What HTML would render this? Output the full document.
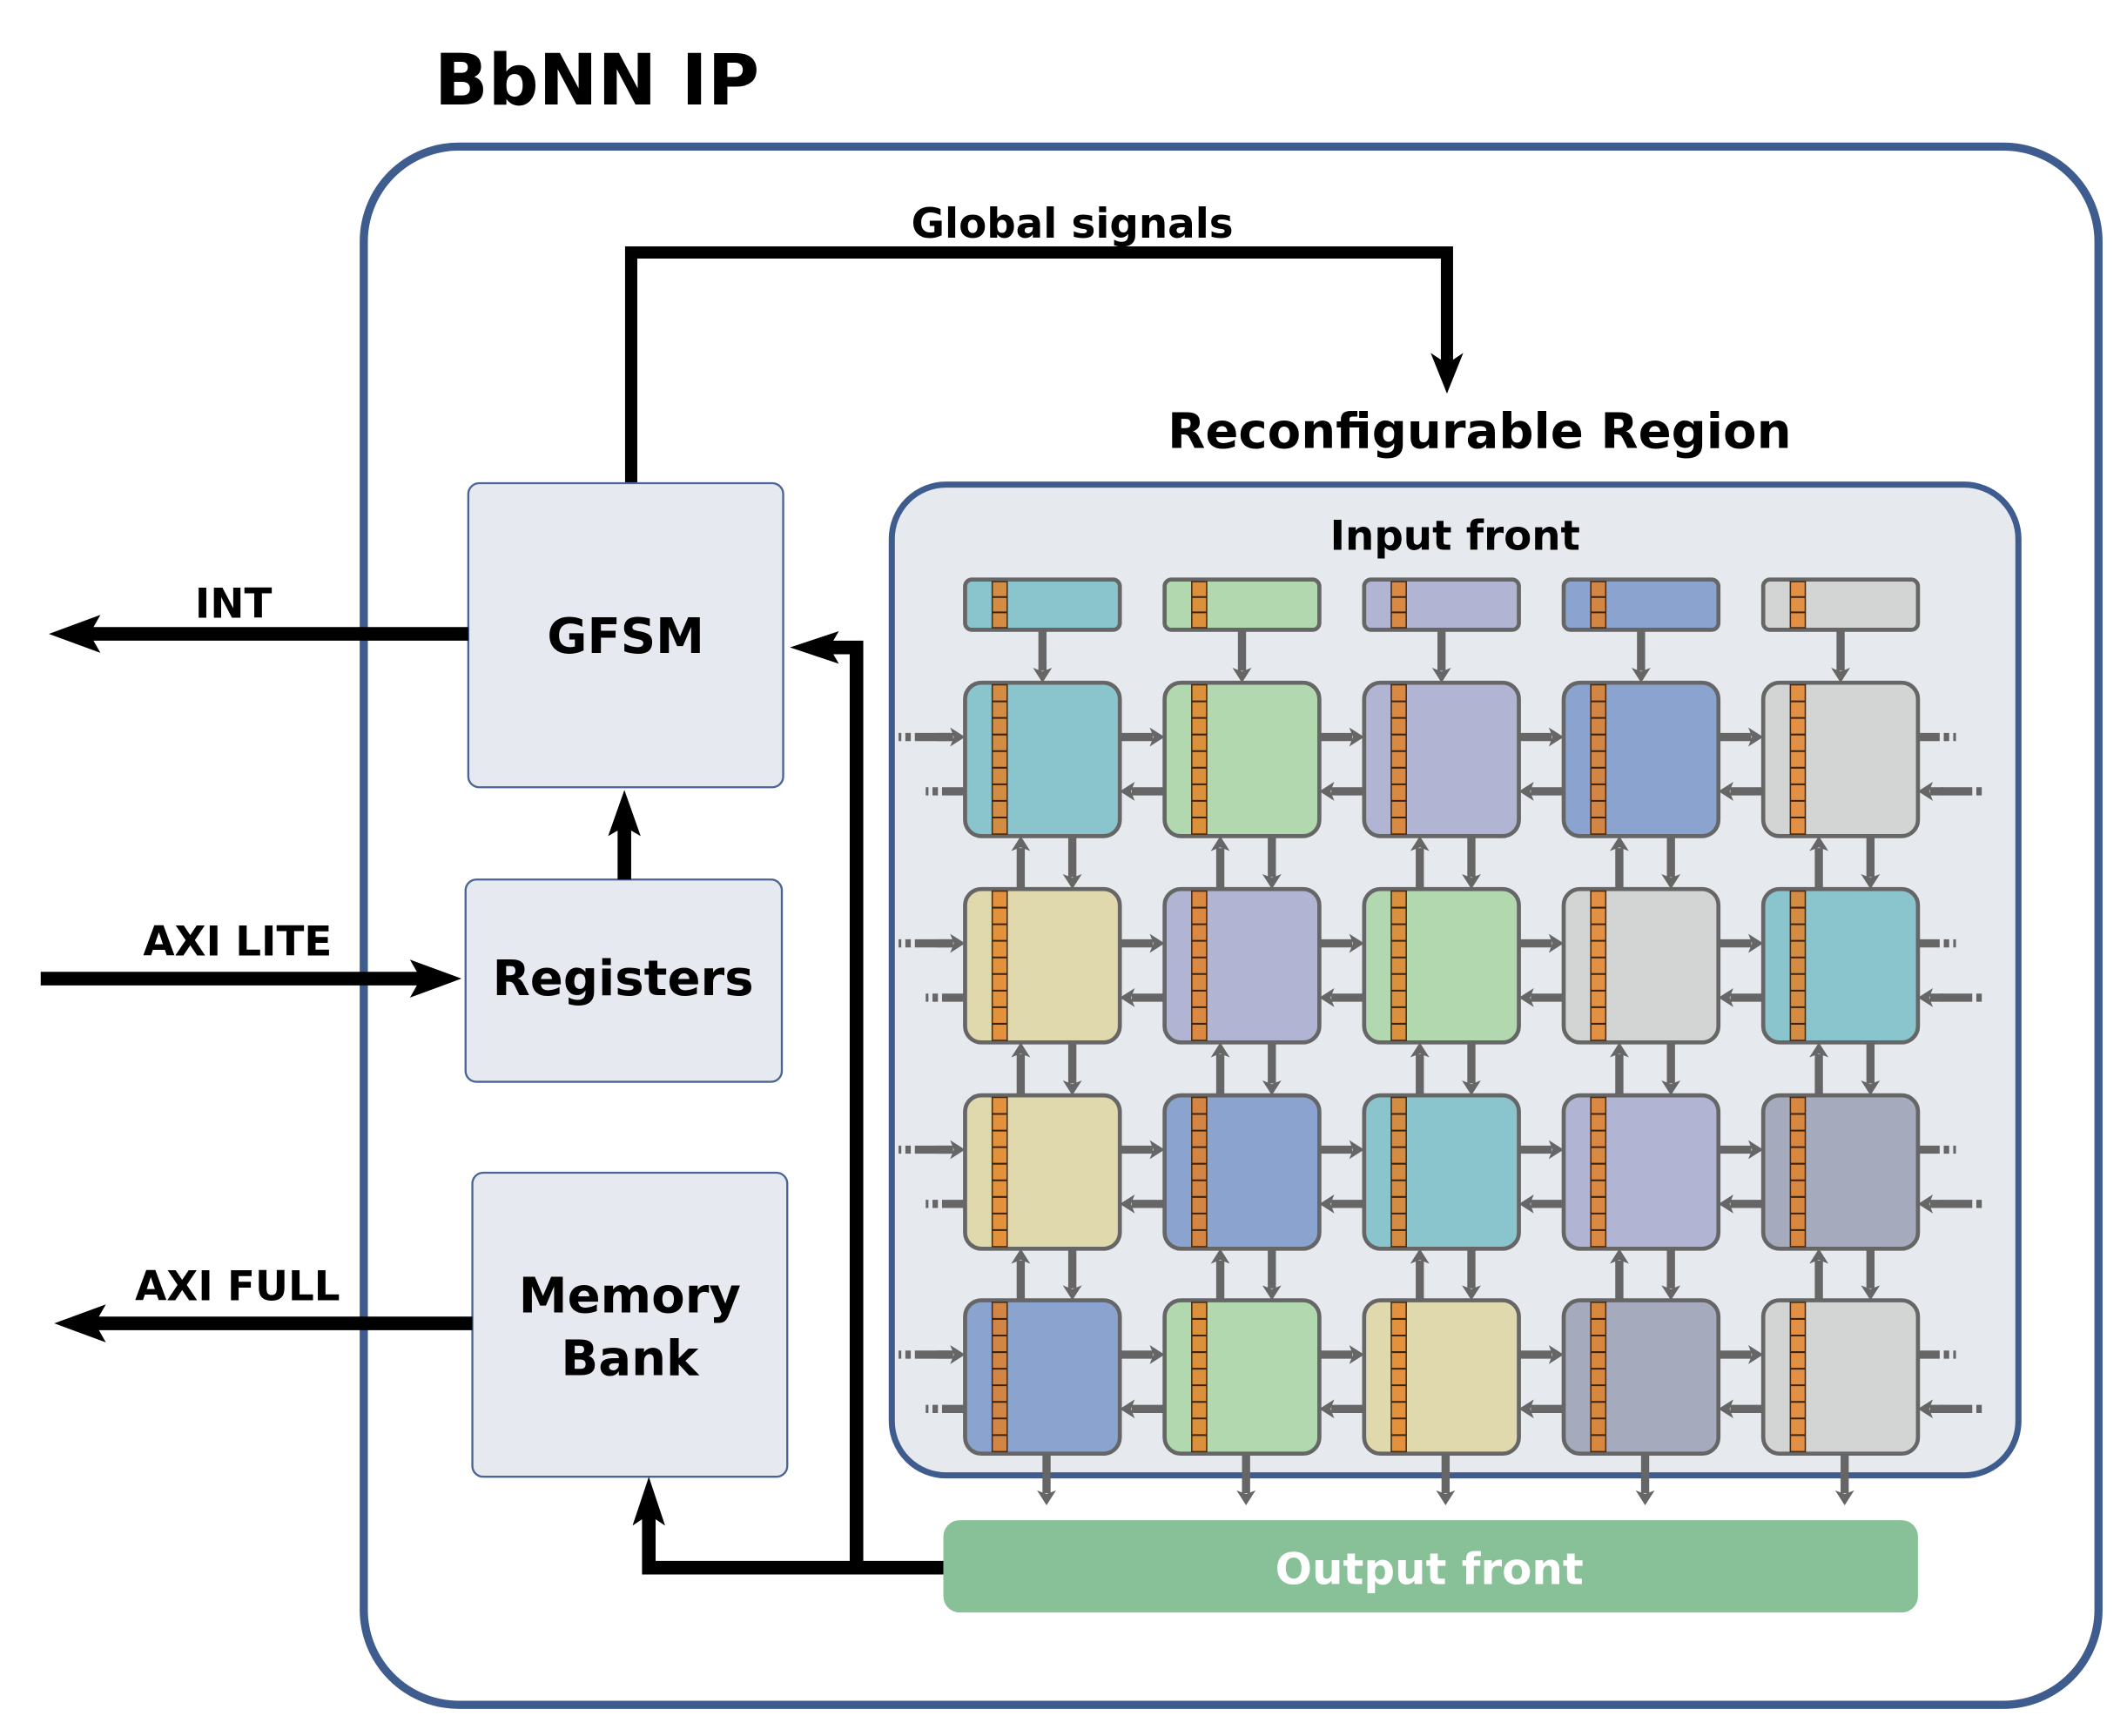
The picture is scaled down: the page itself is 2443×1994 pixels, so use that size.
<!DOCTYPE html>
<html><head><meta charset="utf-8"><style>html,body{margin:0;padding:0;background:#fff}svg{display:block}</style></head>
<body>
<svg id="s" xmlns="http://www.w3.org/2000/svg" width="2443" height="1994" viewBox="0 0 1567 1279" preserveAspectRatio="xMinYMin meet" font-family="'DejaVu Sans','Liberation Sans',sans-serif" font-weight="bold">
<rect width="1567" height="1279" fill="#fff"/>
<text x="320" y="77" font-size="52">BbNN IP</text>
<rect x="268" y="108" width="1278" height="1148" rx="70" fill="#fff" stroke="#3f5c8f" stroke-width="6"/>
<polyline points="465,356 465,186 1066,186 1066,272" fill="none" stroke="#000" stroke-width="9"/>
<polygon points="1066,290 1054,260 1066,268 1078,260" fill="#000"/>
<text x="790" y="175" font-size="30" text-anchor="middle">Global signals</text>
<text x="1090" y="330" font-size="36" text-anchor="middle">Reconfigurable Region</text>
<rect x="657" y="357" width="830" height="730" rx="40" fill="#e6e9ee" stroke="#3f5c8f" stroke-width="4.5"/>
<text x="1072" y="405" font-size="30" text-anchor="middle">Input front</text>
<rect x="345" y="356" width="232" height="224" rx="8" fill="#e6e9ef" stroke="#4a6496" stroke-width="1.5"/>
<text x="461" y="481" font-size="36" text-anchor="middle">GFSM</text>
<rect x="343" y="648" width="233" height="149" rx="8" fill="#e6e9ef" stroke="#4a6496" stroke-width="1.5"/>
<text x="459" y="733" font-size="36" text-anchor="middle">Registers</text>
<rect x="348" y="864" width="232" height="224" rx="8" fill="#e6e9ef" stroke="#4a6496" stroke-width="1.5"/>
<text x="464" y="967" font-size="36" text-anchor="middle">Memory</text>
<text x="464" y="1013" font-size="36" text-anchor="middle">Bank</text>
<line x1="345" y1="467" x2="55" y2="467" stroke="#000" stroke-width="10"/>
<polygon points="36,467 74,453 66,467 74,481" fill="#000"/>
<text x="172" y="455" font-size="30" text-anchor="middle">INT</text>
<line x1="30" y1="721" x2="320" y2="721" stroke="#000" stroke-width="10"/>
<polygon points="340,721 302,707 310,721 302,735" fill="#000"/>
<text x="175" y="704" font-size="30" text-anchor="middle">AXI LITE</text>
<line x1="348" y1="975" x2="58" y2="975" stroke="#000" stroke-width="10"/>
<polygon points="40,975 78,961 70,975 78,989" fill="#000"/>
<text x="175" y="958" font-size="30" text-anchor="middle">AXI FULL</text>
<line x1="460" y1="648" x2="460" y2="600" stroke="#000" stroke-width="10"/>
<polygon points="460,582 448,616 460,609 472,616" fill="#000"/>
<polyline points="695,1155 478,1155 478,1105" fill="none" stroke="#000" stroke-width="10"/>
<polygon points="478,1088 466,1124 478,1116 490,1124" fill="#000"/>
<polyline points="631,1155 631,477 600,477" fill="none" stroke="#000" stroke-width="10"/>
<polygon points="582,477 618,465 611,477 618,489" fill="#000"/>
<rect x="695" y="1120" width="718" height="68" rx="12" fill="#88c198"/>
<text x="1053" y="1167" font-size="32" text-anchor="middle" fill="#fff">Output front</text>
<g id="grid"></g>
</svg>
<script>
(function(){
var NS="http://www.w3.org/2000/svg",g=document.getElementById("grid");
function el(t,a){var e=document.createElementNS(NS,t);for(var k in a)e.setAttribute(k,a[k]);g.appendChild(e);return e;}
var C={t:"#8ac4cd",g:"#b2d8b0",l:"#b1b4d2",b:"#8aa3cf",y:"#d3d5d4",n:"#e0d9ad",s:"#a6aabd"};
var cols=[711,858,1005,1152,1299],rows=[503,655,807,958],W=114,H=113,GR="#666";
var grid=[["t","g","l","b","y"],["n","l","g","y","t"],["n","b","t","l","s"],["b","g","n","s","y"]];
var inp=["t","g","l","b","y"];
function arrow(x1,y1,x2,y2){
 var dx=x2-x1,dy=y2-y1,L=Math.sqrt(dx*dx+dy*dy),ux=dx/L,uy=dy/L,px=-uy,py=ux,hl=11,hw=7;
 el("line",{x1:x1,y1:y1,x2:x2-ux*hl*0.8,y2:y2-uy*hl*0.8,stroke:GR,"stroke-width":6});
 el("polygon",{points:[x2,y2,x2-ux*hl+px*hw,y2-uy*hl+py*hw,x2-ux*hl*0.75,y2-uy*hl*0.75,x2-ux*hl-px*hw,y2-uy*hl-py*hw].join(","),fill:GR});
}
function tile(x,y,w,h,c,n,rx){
 el("rect",{x:x,y:y,width:w,height:h,rx:rx,fill:C[c],stroke:GR,"stroke-width":3});
 el("rect",{x:x+20,y:y+1.5,width:11,height:h-3,fill:"#e57e1f","fill-opacity":0.8,stroke:"#4a2a10","stroke-width":1});
 for(var i=1;i<n;i++){var yy=y+1.5+(h-3)*i/n;el("line",{x1:x+20,y1:yy,x2:x+31,y2:yy,stroke:"#3a2410","stroke-width":1.3});}
}
for(var c=0;c<5;c++){
 var x=cols[c];
 tile(x,427,W,37,inp[c],3,5);
 arrow(x+57,465,x+57,503);
 arrow(x+60,1071,x+60,1109);
}
for(var r=0;r<4;r++)for(var c=0;c<5;c++){
 var x=cols[c],y=rows[r];
 tile(x,y,W,H,grid[r][c],9,12);
 if(c<4){arrow(x+W,y+40,cols[c+1],y+40);arrow(cols[c+1],y+80,x+W,y+80);}
 if(r<3){arrow(x+41,rows[r+1],x+41,y+H);arrow(x+79,y+H,x+79,rows[r+1]);}
}
for(var r=0;r<4;r++){
 var y=rows[r];
 el("line",{x1:662,y1:y+40,x2:700,y2:y+40,stroke:GR,"stroke-width":6,"stroke-dasharray":"2,3,4,3,40"});
 arrow(690,y+40,711,y+40);
 el("line",{x1:682,y1:y+80,x2:711,y2:y+80,stroke:GR,"stroke-width":6,"stroke-dasharray":"2,3,4,3,40"});
 el("line",{x1:1413,y1:y+40,x2:1443,y2:y+40,stroke:GR,"stroke-width":6,"stroke-dasharray":"16,3,4,3,2,40"});
 el("line",{x1:1430,y1:y+80,x2:1463,y2:y+80,stroke:GR,"stroke-width":6,"stroke-dasharray":"23,3,4,3,2,40"});
 arrow(1432,y+80,1413,y+80);
}
})();
</script>
</body></html>
